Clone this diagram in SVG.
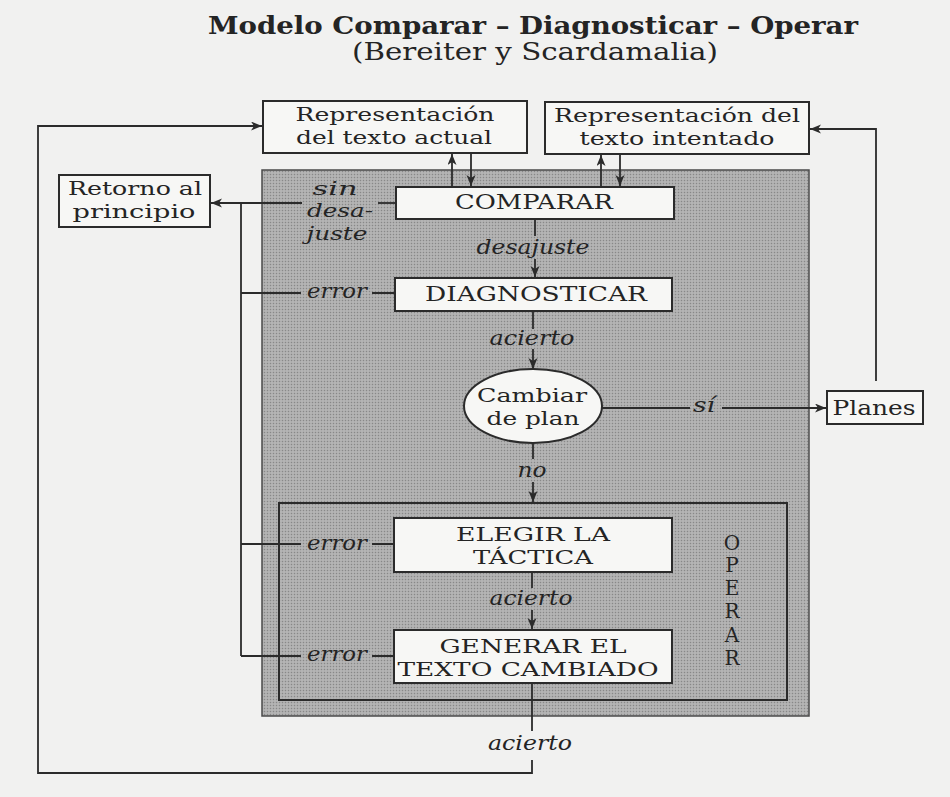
<svg xmlns="http://www.w3.org/2000/svg" width="950" height="797" viewBox="0 0 950 797">
  <style>
    .box { fill: #f7f7f5; stroke: #2b2b2b; stroke-width: 2; }
    .ln { fill: none; stroke: #2b2b2b; stroke-width: 1.8; }
    .arr { marker-end: url(#head); }
    .t { font-family: "DejaVu Serif", "Liberation Serif", serif; font-size: 20px; fill: #242424; text-anchor: middle; }
    .s { font-size: 18.5px; }
    .i { font-style: italic; }
    .title { font-size: 24px; font-weight: bold; }
    .sub { font-size: 24px; }
  </style>
  <defs>
    <marker id="head" markerUnits="userSpaceOnUse" markerWidth="12" markerHeight="10" refX="11" refY="4.5" orient="auto">
      <path d="M0,0 L11,4.5 L0,9 L3,4.5 Z" fill="#2b2b2b"/>
    </marker>
    <pattern id="halftone" width="3" height="3" patternUnits="userSpaceOnUse">
      <rect width="3" height="3" fill="#acacac"/>
      <rect width="1" height="1" fill="#888888"/>
      <rect x="1.5" y="1.5" width="1" height="1" fill="#cdcdcd"/>
    </pattern>
  </defs>

  <!-- page -->
  <rect width="950" height="797" fill="#f1f1f0"/>

  <!-- heading -->
  <text class="t title" x="533" y="34" textLength="650" lengthAdjust="spacingAndGlyphs">Modelo Comparar – Diagnosticar – Operar</text>
  <text class="t sub" x="535" y="60" textLength="366" lengthAdjust="spacingAndGlyphs">(Bereiter y Scardamalia)</text>

  <!-- shaded processing area -->
  <g id="area">
    <rect x="262" y="170" width="547" height="546" fill="url(#halftone)" stroke="#4a4a4a" stroke-width="1.5"/>
  </g>

  <g id="operar">
    <rect x="279" y="503" width="508" height="197" fill="none" stroke="#2b2b2b" stroke-width="2"/>
    <text class="t" x="732" y="550">O</text>
    <text class="t" x="732" y="572">P</text>
    <text class="t" x="732" y="595">E</text>
    <text class="t" x="732" y="618">R</text>
    <text class="t" x="732" y="642">A</text>
    <text class="t" x="732" y="665">R</text>
  </g>

  <!-- connectors -->
  <g id="connectors">
    <!-- return loop on the left -->
    <path class="ln arr" d="M532,760 V773 H38 V126 H262"/>
    <path class="ln" d="M532,683 V731"/>
    <!-- loop from Planes -->
    <path class="ln arr" d="M876,381 V129 H810"/>
    <!-- representations <-> comparar -->
    <path class="ln arr" d="M452,187 V154"/>
    <path class="ln arr" d="M471,153 V186"/>
    <path class="ln arr" d="M601,187 V155"/>
    <path class="ln arr" d="M620,154 V186"/>
    <!-- sin desajuste -> retorno -->
    <path class="ln" d="M396,203 H378"/>
    <path class="ln arr" d="M302,203 H211"/>
    <path class="ln" d="M241,203 V656"/>
    <!-- error branches -->
    <path class="ln" d="M241,293 H301 M372,293 H395"/>
    <path class="ln" d="M241,544 H301 M372,544 H394"/>
    <path class="ln" d="M241,656 H301 M372,656 H394"/>
    <!-- main flow -->
    <path class="ln" d="M535,219 V236"/>
    <path class="ln arr" d="M535,259 V277"/>
    <path class="ln" d="M533,311 V329"/>
    <path class="ln arr" d="M533,349 V369"/>
    <path class="ln" d="M602,408 H690"/>
    <path class="ln arr" d="M722,408 H826"/>
    <path class="ln" d="M533,443 V459"/>
    <path class="ln arr" d="M533,482 V502"/>
    <path class="ln" d="M532,572 V588"/>
    <path class="ln arr" d="M532,610 V629"/>
  </g>

  <!-- connector labels -->
  <g id="labels">
    <text class="t s i" x="335" y="195" textLength="45" lengthAdjust="spacingAndGlyphs">sin</text>
    <text class="t s i" x="340" y="217" textLength="66" lengthAdjust="spacingAndGlyphs">desa-</text>
    <text class="t s i" x="337" y="240" textLength="61" lengthAdjust="spacingAndGlyphs">juste</text>
    <text class="t i" x="533" y="254" textLength="113" lengthAdjust="spacingAndGlyphs">desajuste</text>
    <text class="t i" x="337" y="298" textLength="60" lengthAdjust="spacingAndGlyphs">error</text>
    <text class="t i" x="532" y="345" textLength="85" lengthAdjust="spacingAndGlyphs">acierto</text>
    <text class="t i" x="704" y="412" textLength="22" lengthAdjust="spacingAndGlyphs">sí</text>
    <text class="t i" x="532" y="477" textLength="29" lengthAdjust="spacingAndGlyphs">no</text>
    <text class="t i" x="337" y="550" textLength="60" lengthAdjust="spacingAndGlyphs">error</text>
    <text class="t i" x="531" y="605" textLength="83" lengthAdjust="spacingAndGlyphs">acierto</text>
    <text class="t i" x="337" y="661" textLength="60" lengthAdjust="spacingAndGlyphs">error</text>
    <text class="t i" x="530" y="750" textLength="84" lengthAdjust="spacingAndGlyphs">acierto</text>
  </g>

  <!-- nodes -->
  <g id="rep-actual">
    <rect class="box" x="263" y="101" width="264" height="52"/>
    <text class="t s" x="395" y="121" textLength="199" lengthAdjust="spacingAndGlyphs">Representación</text>
    <text class="t s" x="394" y="144" textLength="196" lengthAdjust="spacingAndGlyphs">del texto actual</text>
  </g>
  <g id="rep-intentado">
    <rect class="box" x="545" y="102" width="264" height="52"/>
    <text class="t s" x="677" y="122" textLength="246" lengthAdjust="spacingAndGlyphs">Representación del</text>
    <text class="t s" x="677" y="145" textLength="195" lengthAdjust="spacingAndGlyphs">texto intentado</text>
  </g>
  <g id="retorno">
    <rect class="box" x="59" y="175" width="151" height="52"/>
    <text class="t s" x="135" y="195" textLength="134" lengthAdjust="spacingAndGlyphs">Retorno al</text>
    <text class="t s" x="134" y="218" textLength="123" lengthAdjust="spacingAndGlyphs">principio</text>
  </g>
  <g id="comparar">
    <rect class="box" x="396" y="187" width="278" height="32"/>
    <text class="t" x="534" y="209" textLength="158" lengthAdjust="spacingAndGlyphs">COMPARAR</text>
  </g>
  <g id="diagnosticar">
    <rect class="box" x="395" y="278" width="277" height="33"/>
    <text class="t" x="536" y="301" textLength="222" lengthAdjust="spacingAndGlyphs">DIAGNOSTICAR</text>
  </g>
  <g id="cambiar-plan">
    <ellipse class="box" cx="533" cy="406" rx="69" ry="37"/>
    <text class="t s" x="532" y="402" textLength="110" lengthAdjust="spacingAndGlyphs">Cambiar</text>
    <text class="t s" x="533" y="425" textLength="93" lengthAdjust="spacingAndGlyphs">de plan</text>
  </g>
  <g id="planes">
    <rect class="box" x="827" y="391" width="96" height="33"/>
    <text class="t" x="874" y="415" textLength="83" lengthAdjust="spacingAndGlyphs">Planes</text>
  </g>
  <g id="elegir">
    <rect class="box" x="394" y="518" width="278" height="54"/>
    <text class="t s" x="533" y="541" textLength="154" lengthAdjust="spacingAndGlyphs">ELEGIR LA</text>
    <text class="t s" x="533" y="564" textLength="120" lengthAdjust="spacingAndGlyphs">TÁCTICA</text>
  </g>
  <g id="generar">
    <rect class="box" x="394" y="630" width="278" height="53"/>
    <text class="t s" x="533" y="653" textLength="187" lengthAdjust="spacingAndGlyphs">GENERAR EL</text>
    <text class="t s" x="528" y="676" textLength="261" lengthAdjust="spacingAndGlyphs">TEXTO CAMBIADO</text>
  </g>
</svg>
